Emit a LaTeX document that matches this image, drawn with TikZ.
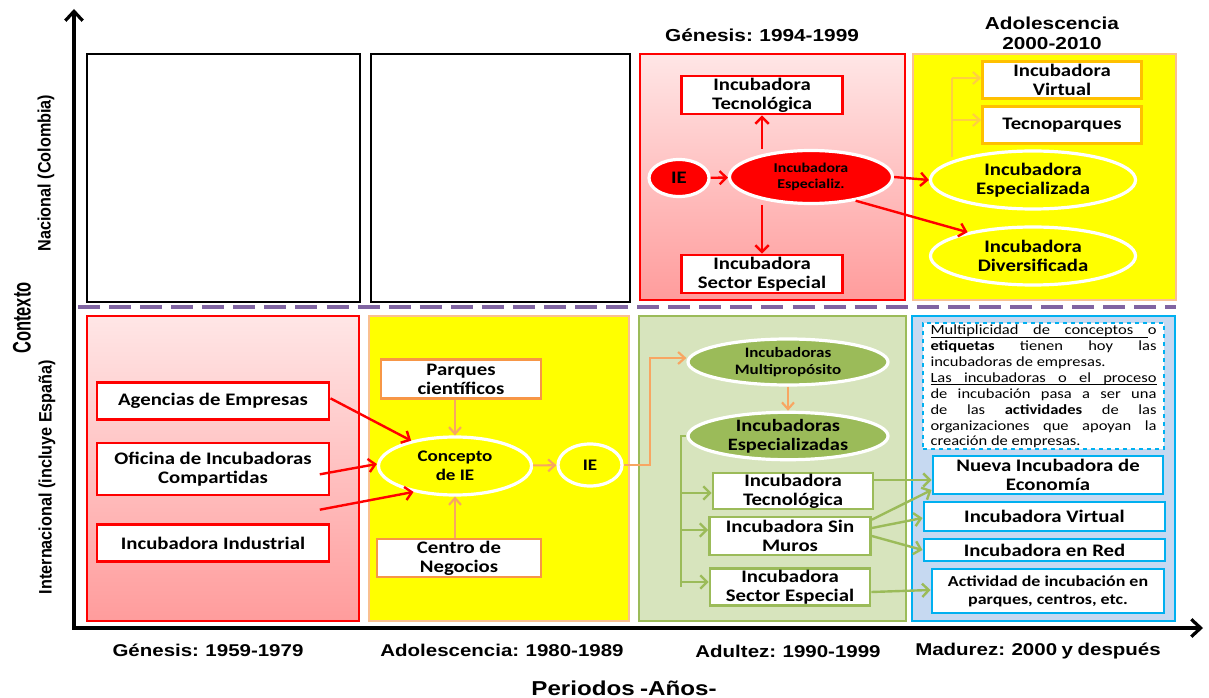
\documentclass[tikz,border=0pt]{standalone}
\usepackage{fontspec}
\setmainfont[FakeStretch=1.18]{Carlito}
\newfontfamily\arialw[FakeStretch=1.2,WordSpace=0.8]{Liberation Sans}
\newfontfamily\arialn[FakeStretch=0.9]{Liberation Sans}
\newfontfamily\arialc[FakeStretch=0.65]{Liberation Sans}
\usetikzlibrary{arrows.meta,shapes.geometric}
\newsavebox\ulbox
\newcommand\ulw[1]{\sbox\ulbox{#1}\rlap{\vrule height -1.5pt depth 1.95pt width \wd\ulbox}\usebox\ulbox}
\newcommand\ulsp{\leaders\hrule height -1.5pt depth 1.95pt\hskip 0.23em plus 0.3em minus 0.07em\relax}
\definecolor{cred}{HTML}{FF0000}
\definecolor{pinkT}{HTML}{FFE6E6}
\definecolor{pinkB}{HTML}{FF9C9C}
\definecolor{cyel}{HTML}{FFFF00}
\definecolor{peach}{HTML}{FAC090}
\definecolor{corange}{HTML}{F79646}
\definecolor{cgold}{HTML}{FFC000}
\definecolor{gfill}{HTML}{D7E4BD}
\definecolor{gline}{HTML}{9BBB59}
\definecolor{bfill}{HTML}{C6D9F1}
\definecolor{ccyan}{HTML}{00B0F0}
\definecolor{cpurple}{HTML}{8064A2}
\tikzset{
  sz/.style 2 args={minimum width=#1*0.75pt, minimum height=#2*0.75pt},
  base/.style={inner sep=0pt, align=center, text=black, font=\bfseries\fontsize{13.2}{14.3}\selectfont},
  rbox/.style={base, rectangle, draw=cred, line width=2.2pt, fill=white},
  obox/.style={base, rectangle, draw=corange, line width=2pt, fill=white},
  ybox/.style={base, rectangle, draw=cgold, line width=2pt, fill=white},
  gbox/.style={base, rectangle, draw=gline, line width=2pt, fill=white},
  cbox/.style={base, rectangle, draw=ccyan, line width=2.2pt, fill=white},
  rell/.style={base, ellipse, draw=white, line width=2.4pt, fill=cred},
  yell/.style={base, ellipse, draw=white, line width=2.4pt, fill=cyel},
  gell/.style={base, ellipse, draw=white, line width=2.4pt, fill=gline},
  rarr/.style={draw=cred, line width=1.8pt, -{Straight Barb[length=5pt,width=10pt]}},
  oarr/.style={draw=corange!85!white, line width=1.6pt, -{Straight Barb[length=5pt,width=9pt]}},
  yarr/.style={draw=cgold!75!white, line width=1.6pt, -{Straight Barb[length=5pt,width=9pt]}},
  garr/.style={draw=gline, line width=1.8pt, -{Straight Barb[length=5pt,width=10pt]}},
  gline/.style={draw=gline, line width=1.8pt},
  axlab/.style={inner sep=0pt, font=\arialw\bfseries\fontsize{12.8}{14}\selectfont},
  vlab/.style={inner sep=0pt, rotate=90, font=\arialn\bfseries\fontsize{13.5}{15}\selectfont},
  title/.style={inner sep=0pt, align=center, font=\arialw\bfseries\fontsize{13}{15}\selectfont},
}
\begin{document}
\begin{tikzpicture}[x=0.75pt,y=-0.75pt]
\useasboundingbox (0,0) rectangle (1209,698);
% panels top row
\draw[black, line width=2.2pt, fill=white] (87,54) rectangle (360,302);
\draw[black, line width=2.2pt, fill=white] (371,54) rectangle (630,302);
\shade[top color=pinkT, bottom color=pinkB] (640,54) rectangle (905,300);
\draw[cred, line width=1pt] (640,54) rectangle (905,300);
\draw[peach, line width=2pt, fill=cyel] (913,54) rectangle (1176,300);
% panels bottom row
\shade[top color=pinkT, bottom color=pinkB] (87,316) rectangle (359,621);
\draw[cred, line width=1pt] (87,316) rectangle (359,621);
\draw[peach, line width=2pt, fill=cyel] (369,316) rectangle (629,621);
\draw[gline, line width=2pt, fill=gfill] (639,316) rectangle (906,621);
\draw[ccyan, line width=2.2pt, fill=bfill] (912,316) rectangle (1175,621);
% dashed separator
\draw[cpurple, line width=3.2pt, dash pattern=on 16.5pt off 6.8pt] (78,307) -- (1176,307);
% axes
\coordinate (O) at (74,628);
\coordinate (ytop) at (74,9);
\coordinate (xend) at (1203,628);
\draw[line width=2.4pt, -{Straight Barb[length=7pt,width=13pt]}] (O) -- (ytop);
\draw[line width=2.4pt, -{Straight Barb[length=7pt,width=13pt]}] ([xshift=-1.2pt]O) -- (xend);
% axis labels
\node[inner sep=0pt, rotate=90, font=\arialc\bfseries\fontsize{19}{21}\selectfont] (ctx) at (22,318) {Contexto};
\node[vlab] (nac) at (46,173) {Nacional (Colombia)};
\node[vlab] (intl) at (47,477) {Internacional (incluye España)};
\node[axlab] (p1) at (208,650) {Génesis: 1959-1979};
\node[axlab] (p2) at (502,650) {Adolescencia: 1980-1989};
\node[axlab] (p3) at (788,651) {Adultez: 1990-1999};
\node[axlab] (p4) at (1038,651) {Madurez: 2000 y después};
\node[axlab, font=\arialw\bfseries\fontsize{15.1}{17}\selectfont] (per) at (624,688) {Periodos -Años-};
% titles
\node[title] (t3) at (762,35) {Génesis: 1994-1999};
\node[title] (t4) at (1052,33) {Adolescencia\\2000-2010};
% ---- Genesis 1994-1999 (Colombia)
\node[rbox, sz={161}{38}] (tec1) at (762,95) {Incubadora\\Tecnológica};
\node[rell, sz={60}{37}] (ie1) at (679,178) {IE};
\node[rell, sz={163}{53}, font=\bfseries\fontsize{10.1}{11.5}\selectfont] (esp1) at (811,177) {Incubadora\\Especializ.};
\node[rbox, sz={161}{38}] (sec1) at (762,274) {Incubadora\\Sector Especial};
\draw[rarr] (ie1) -- (esp1);
\draw[rarr] (esp1.north -| tec1) -- (tec1);
\draw[rarr] (esp1.south -| sec1) -- (sec1);
% ---- Adolescencia 2000-2010 (Colombia)
\node[ybox, sz={159}{37}] (vir2) at (1062,80) {Incubadora\\Virtual};
\node[ybox, sz={159}{37}] (tecp) at (1062,125) {Tecnoparques};
\node[yell, sz={205}{58}] (esp2) at (1033,180) {Incubadora\\Especializada};
\node[yell, sz={205}{58}] (div2) at (1033,256) {Incubadora\\Diversificada};
\coordinate (yb) at (952,157);
\draw[draw=cgold!75!white, line width=1.6pt] (yb) -- (952,78);
\draw[yarr] (952,78) -- (vir2.west |- 0,78);
\draw[yarr] (952,120) -- (tecp.west |- 0,120);
\draw[rarr] (esp1.east) -- (esp2.west);
\draw[rarr] (esp1.-28) -- (div2.160);
% ---- Genesis 1959-1979 (Internacional)
\node[rbox, sz={232}{37}] (age) at (213,401) {Agencias de Empresas};
\node[rbox, sz={232}{52}] (ofi) at (213,469) {Oficina de Incubadoras\\Compartidas};
\node[rbox, sz={232}{37}] (ind) at (213,543) {Incubadora Industrial};
% ---- Adolescencia 1980-1989
\node[obox, sz={160}{39}] (par) at (461,379) {Parques\\científicos};
\node[yell, sz={153}{58}, font=\bfseries\fontsize{12.1}{14}\selectfont] (con) at (455,466) {Concepto\\de IE};
\node[obox, sz={164}{38}] (cen) at (459,558) {Centro de\\Negocios};
\node[yell, sz={64}{42}, font=\bfseries\fontsize{12.1}{14}\selectfont] (ie2) at (590,465) {IE};
\draw[rarr] ([yshift=2pt]age.east) -- (con.150);
\draw[rarr] ([xshift=-8pt,yshift=-4pt]ofi.east) -- (con.west |- 0,464);
\draw[rarr] ([xshift=-8pt,yshift=10pt]ind.north east) -- (con.212);
\draw[oarr] (par.south -| con) -- (con);
\draw[oarr] (cen.north -| con) -- (con);
\draw[oarr] (con) -- (ie2);
% ---- Adultez 1990-1999
\node[gell, sz={200}{46}, font=\bfseries\fontsize{10.8}{12.5}\selectfont] (mul) at (788,362) {Incubadoras\\Multipropósito};
\node[gell, sz={200}{46}, font=\bfseries\fontsize{13}{14}\selectfont] (esp3) at (788,436) {Incubadoras\\Especializadas};
\node[gbox, sz={160}{36}] (tec3) at (793,491) {Incubadora\\Tecnológica};
\node[gbox, sz={161}{38}] (sin3) at (790,536) {Incubadora Sin\\Muros};
\node[gbox, sz={160}{37}] (sec3) at (790,587) {Incubadora\\Sector Especial};
\draw[oarr] (ie2.east) -- (650,465) -- (650,358) -- (mul.west |- 0,358);
\draw[oarr] (mul) -- (esp3);
\draw[gline] (esp3.west) -- (681,436) -- (681,587);
\draw[garr] (681,493) -- (tec3.west |- 0,493);
\draw[garr] (681,530) -- (sin3.west |- 0,530);
\draw[garr] (681,582) -- (sec3.west |- 0,582);
% ---- Madurez 2000 y despues
\node[draw=ccyan, dashed, line width=2pt, fill=white, sz={241}{126}, inner sep=0pt] (note) at (1043.5,386) {};
\node[inner sep=0pt, text width=226*0.75pt, align=justify, font=\fontsize{10.5}{11.9}\selectfont] (notetxt) at ([yshift=-0.5pt]note.center)
{\ulw{Multiplicidad}\ulsp\ulw{de}\ulsp\ulw{conceptos}\ulsp o\linebreak \textbf{etiquetas} tienen hoy las\linebreak incubadoras de empresas.\\
\ulw{Las}\ulsp\ulw{incubadoras}\ulsp\ulw{o}\ulsp\ulw{el}\ulsp\ulw{proceso}\linebreak de incubación pasa  a ser una\linebreak de las \textbf{actividades} de las\linebreak organizaciones que apoyan la\linebreak creación de empresas.};
\node[cbox, sz={230}{38}] (nue) at (1048,475) {Nueva Incubadora de\\Economía};
\node[cbox, sz={241}{29}] (vir4) at (1044.5,516.5) {Incubadora Virtual};
\node[cbox, sz={241}{22}] (red4) at (1044.5,550) {Incubadora en Red};
\node[cbox, sz={232}{44}, font=\bfseries\fontsize{11.4}{13.5}\selectfont] (act) at (1048,591) {Actividad de incubación en\\parques, centros, etc.};
\draw[garr] (tec3.east |- 0,480) -- (nue.west |- 0,480);
\draw[garr] ([yshift=-3pt]sin3.north east) -- (nue.west |- 0,490);
\draw[garr] (sin3.east |- 0,528) -- (vir4.west |- 0,518);
\draw[garr] (sin3.east |- 0,536) -- (red4.west);
\draw[garr] (sec3.east |- 0,592) -- (act.west |- 0,590);
\end{tikzpicture}
\end{document}
